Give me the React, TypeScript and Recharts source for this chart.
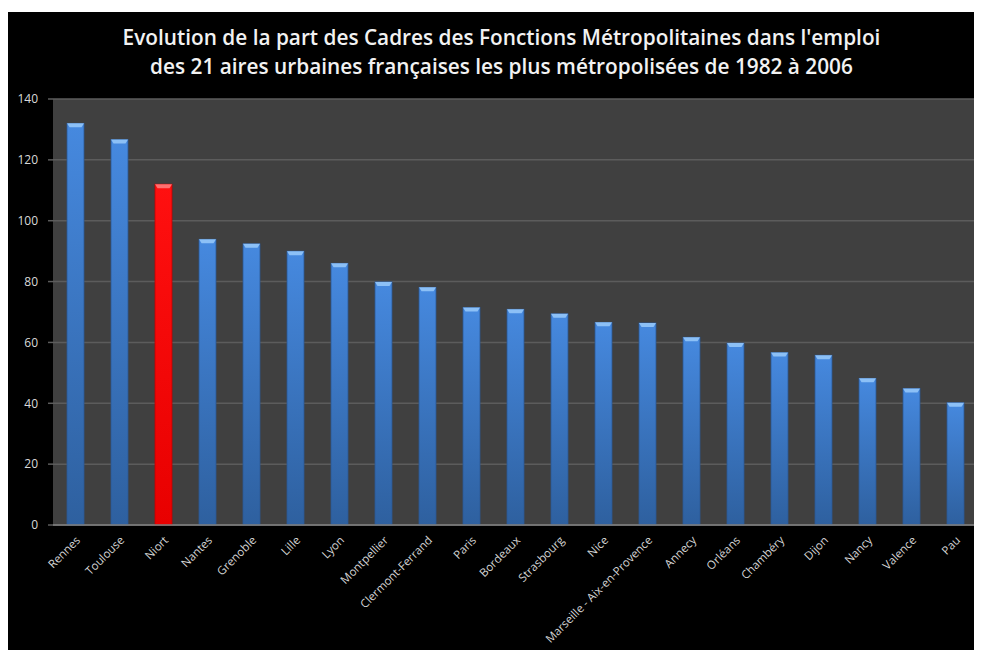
import type { FC } from 'react';
import { Bar, BarChart, CartesianGrid, XAxis, YAxis } from 'recharts';

const cities = [
  'Rennes', 'Toulouse', 'Niort', 'Nantes', 'Grenoble', 'Lille', 'Lyon', 'Montpellier',
  'Clermont-Ferrand', 'Paris', 'Bordeaux', 'Strasbourg', 'Nice', 'Marseille - Aix-en-Provence',
  'Annecy', 'Orléans', 'Chambéry', 'Dijon', 'Nancy', 'Valence', 'Pau',
];
const evolution = [
  132, 126.7, 112, 93.9, 92.4, 90, 86, 79.9, 78.1, 71.5, 70.9, 69.4, 66.6, 66.4, 61.7, 59.8,
  56.7, 55.8, 48.2, 44.9, 40.2,
];
const highlighted = 'Niort';
const yTicks = [0, 20, 40, 60, 80, 100, 120, 140];
const edgeTicks = cities.map((_, i) => i).concat(cities.length);

const data = cities.map((name, i) => ({ name, value: evolution[i] }));

const BarShape = (props: any) => {
  const { x, y, width, height, payload } = props;
  if (!height || height <= 0) return null;
  const red = payload.name === highlighted;
  return (
    <g>
      <rect
        x={x}
        y={y}
        width={width}
        height={height}
        fill={red ? 'url(#redGrad)' : 'url(#blueGrad)'}
        stroke={red ? '#c00000' : '#2b5793'}
        strokeWidth={0.8}
      />
      <path
        d={`M${x},${y} L${x + width},${y} L${x + width - 2.5},${y + 4} L${x + 2.5},${y + 4} Z`}
        fill={red ? '#ff7070' : '#8cc0f6'}
      />
    </g>
  );
};

const XTick = (props: any) => {
  const { x, y, payload } = props;
  return (
    <g transform={`translate(${x + 6}, ${y + 8})`}>
      <text
        x={0}
        y={0}
        transform='rotate(-45)'
        textAnchor='end'
        fill='#d4d4d4'
        fontSize={11.5}
        fontFamily='"Open Sans", sans-serif'
      >
        {payload.value}
      </text>
    </g>
  );
};

const App: FC = () => {
  return (
    <div
      style={{
        position: 'relative',
        width: 975,
        height: 638,
        marginLeft: -1,
        marginTop: 4,
        background: '#000',
      }}
    >
      <div
        style={{
          position: 'absolute',
          left: 7,
          top: 11,
          width: 975,
          textAlign: 'center',
          color: '#f2f2f2',
          fontFamily: '"Open Sans", sans-serif',
          fontWeight: 600,
          fontSize: 21,
          lineHeight: '29px',
          transform: 'scaleX(0.99)',
          whiteSpace: 'nowrap',
        }}
      >
        Evolution de la part des Cadres des Fonctions Métropolitaines dans l'emploi
        <br />
        des 21 aires urbaines françaises les plus métropolisées de 1982 à 2006
      </div>
      <BarChart
        width={975}
        height={638}
        data={data}
        margin={{ top: 87, right: 5, left: 0, bottom: 0 }}
        barCategoryGap={0}
      >
        <defs>
          <linearGradient id='blueGrad' x1='0' y1='0' x2='0' y2='1'>
            <stop offset='0%' stopColor='#4689df' />
            <stop offset='100%' stopColor='#2e609f' />
          </linearGradient>
          <linearGradient id='redGrad' x1='0' y1='0' x2='0' y2='1'>
            <stop offset='0%' stopColor='#ff1010' />
            <stop offset='100%' stopColor='#e80000' />
          </linearGradient>
        </defs>
        <CartesianGrid vertical={false} fill='#404040' stroke='#5c5c5c' strokeWidth={1.5} />
        <XAxis
          xAxisId='edges'
          type='number'
          domain={[0, cities.length]}
          ticks={edgeTicks}
          allowDataOverflow
          tick={false}
          axisLine={false}
          tickLine={{ stroke: '#7f7f7f' }}
          tickSize={5}
          height={0}
        />
        <XAxis
          dataKey='name'
          interval={0}
          height={125}
          axisLine={{ stroke: '#7f7f7f', strokeWidth: 1.5 }}
          tickLine={false}
          tick={<XTick />}
        />
        <YAxis
          domain={[0, 140]}
          ticks={yTicks}
          width={46}
          axisLine={false}
          tickLine={{ stroke: '#5c5c5c', strokeWidth: 1.5 }}
          tickSize={5}
          tickMargin={10}
          tick={{ fill: '#d9d9d9', fontSize: 12, fontFamily: '"Open Sans", sans-serif' }}
        />
        <Bar dataKey='value' barSize={17} shape={<BarShape />} isAnimationActive={false} />
      </BarChart>
    </div>
  );
};

export default App;
